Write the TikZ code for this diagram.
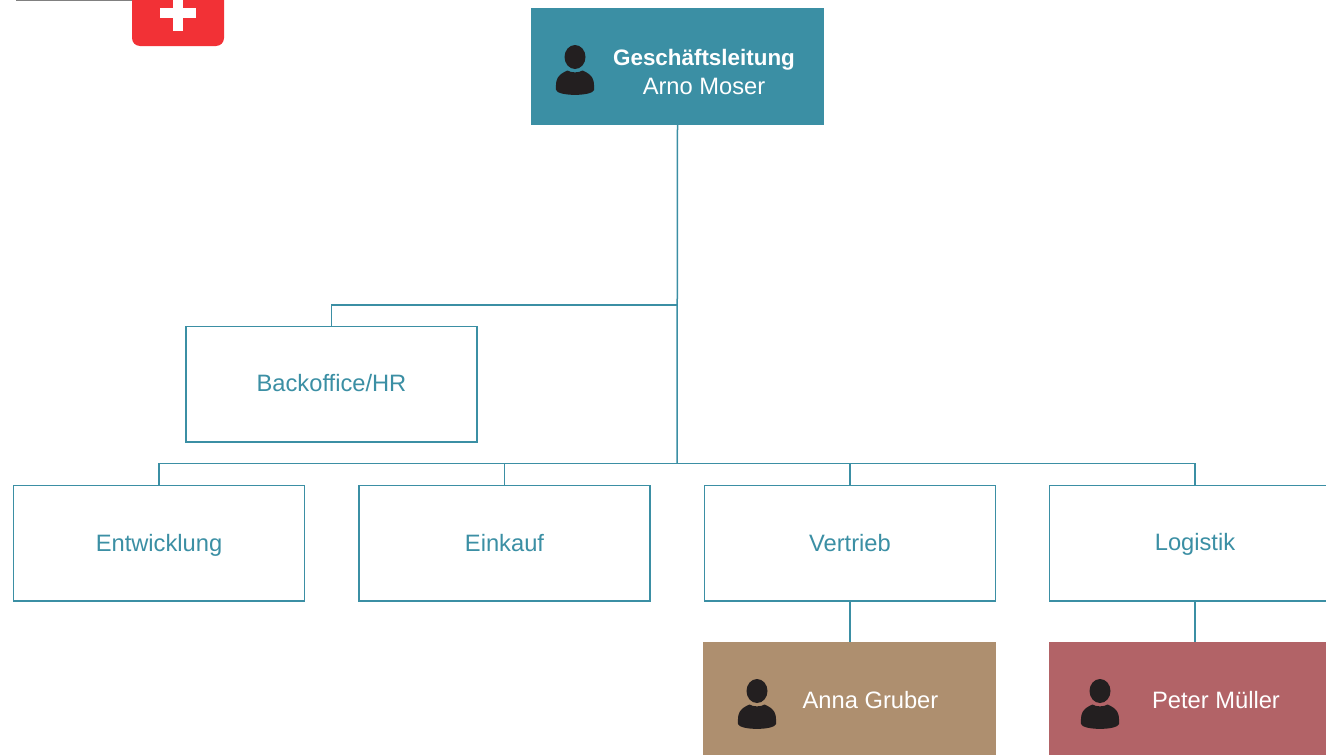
\documentclass[tikz,border=0pt]{standalone}
\usepackage{fontspec}
\setmainfont{Liberation Sans}
\definecolor{teal}{HTML}{3B8FA4}
\definecolor{brownbox}{HTML}{AE8F6F}
\definecolor{redbox}{HTML}{B26367}
\definecolor{flagred}{HTML}{F23136}
\definecolor{icon}{HTML}{231F20}
\definecolor{rulegray}{HTML}{808080}
\tikzset{
  txt/.style={font=\fontsize{23.7}{28}\selectfont},
  unitbox/.style={draw=teal,line width=1.5pt,fill=white,text=teal,minimum width=291pt,minimum height=115.5pt,inner sep=0pt,txt,text height=16pt,text depth=0pt},
  personbox/.style={fill=#1,minimum width=293pt,minimum height=117pt,inner sep=0pt},
  label/.style={text=white,inner sep=0pt,txt,anchor=base},
  boldlabel/.style={text=white,inner sep=0pt,font=\fontsize{22.4}{28}\selectfont\bfseries,anchor=base},
  link/.style={draw=teal,line width=1.5pt},
  person/.pic={
    \fill[icon] (0,-12.5) ellipse (10.5 and 12);
    \fill[icon] (-19,20.5) .. controls (-19.5,10) and (-18,5.5) .. (-7.5,1)
      .. controls (-4,3.5) and (4,3.5) .. (7.5,1)
      .. controls (18,5.5) and (19.5,10) .. (19,20.5)
      .. controls (17,27) and (-17,27) .. (-19,20.5) -- cycle;
  }
}
\begin{document}
\begin{tikzpicture}[x=1pt,y=-1pt]
\useasboundingbox (0,0) rectangle (1326,755);
\clip (0,0) rectangle (1326,755);
% logo
\coordinate (ruleL) at (16,0.4);
\coordinate (ruleR) at (132,0.4);
\draw[rulegray,line width=1pt] (ruleL) -- (ruleR);
\fill[flagred,rounded corners=8pt] (132,-20) rectangle (224,46);
\fill[white] (160,8) rectangle (196,18);
\fill[white] (173,-2) rectangle (183,31);
% nodes
\node[personbox=teal] (top) at (677.5,66.5) {};
\node[unitbox,text height=14pt] (back) at (331.5,384) {Backoffice/HR};
\node[unitbox] (ent) at (159,543) {Entwicklung};
\node[unitbox] (ein) at (504.5,543) {Einkauf};
\node[unitbox] (ver) at (850,543) {Vertrieb};
\node[unitbox,text height=14pt] (log) at (1195,543) {Logistik};
\node[personbox=brownbox] (anna) at (849.5,700.5) {};
\node[personbox=redbox] (peter) at (1195.5,700.5) {};
% text
\node[boldlabel] (gl) at (704,65) {Geschäftsleitung};
\node[label] (am) at (704,94) {Arno Moser};
\node[label] (ag) at (870.5,708) {Anna Gruber};
\node[label] (pm) at (1216,708) {Peter Müller};
% icons
\pic at (575,69.5) {person};
\pic at (757,703.5) {person};
\pic at (1100,703.5) {person};
% connectors
\coordinate (busA) at (677,305);
\coordinate (busB) at (677,463.5);
\draw[link] (top.south) -- (busB);
\draw[link] (busA) -| (back.north);
\draw[link] (busB) -| (ent.north);
\draw[link] (busB) -| (ein.north);
\draw[link] (busB) -| (ver.north);
\draw[link] (busB) -| (log.north);
\draw[link] (ver.south) -- (ver.south |- anna.north);
\draw[link] (log.south) -- (log.south |- peter.north);
\end{tikzpicture}
\end{document}
